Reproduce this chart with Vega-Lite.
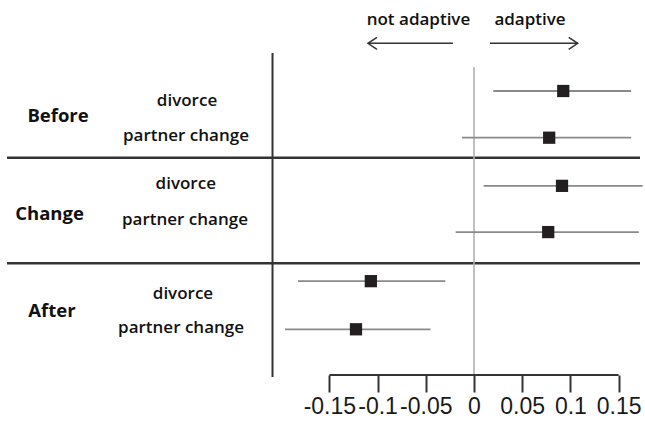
{
  "$schema": "https://vega.github.io/schema/vega-lite/v6.json",
  "width": 645,
  "height": 375,
  "padding": {"left": 0, "top": 0, "right": 0, "bottom": 52},
  "autosize": {"type": "none"},
  "background": "white",
  "config": {
    "view": {"stroke": null},
    "font": "Open Sans"
  },
  "datasets": {
    "estimates": [
      {"period": "Before", "event": "divorce", "row": 1, "est": 0.0926, "lo": 0.02, "hi": 0.163},
      {"period": "Before", "event": "partner change", "row": 1.98, "est": 0.078, "lo": -0.0124, "hi": 0.163},
      {"period": "Change", "event": "divorce", "row": 2.99, "est": 0.0913, "lo": 0.01, "hi": 0.175},
      {"period": "Change", "event": "partner change", "row": 3.96, "est": 0.077, "lo": -0.019, "hi": 0.171},
      {"period": "After", "event": "divorce", "row": 4.99, "est": -0.107, "lo": -0.1826, "hi": -0.0298},
      {"period": "After", "event": "partner change", "row": 6, "est": -0.1224, "lo": -0.196, "hi": -0.045}
    ],
    "labels": [
      {"text": "Before", "kind": "period", "pos": -0.4315, "row": 1.644},
      {"text": "Change", "kind": "period", "pos": -0.4403, "row": 3.707},
      {"text": "After", "kind": "period", "pos": -0.4378, "row": 5.736},
      {"text": "divorce", "kind": "event", "pos": -0.2977, "row": 1.32},
      {"text": "partner change", "kind": "event", "pos": -0.2988, "row": 2.049},
      {"text": "divorce", "kind": "event", "pos": -0.299, "row": 3.06},
      {"text": "partner change", "kind": "event", "pos": -0.2998, "row": 3.812},
      {"text": "divorce", "kind": "event", "pos": -0.3019, "row": 5.37},
      {"text": "partner change", "kind": "event", "pos": -0.3039, "row": 6.077}
    ],
    "separators": [
      {"row": 2.4},
      {"row": 4.615}
    ],
    "arrows": [
      {"label": "not adaptive", "dir": "left", "tail": -0.0218, "head": -0.11, "mid": -0.0576},
      {"label": "adaptive", "dir": "right", "tail": 0.0166, "head": 0.1076, "mid": 0.0581}
    ],
    "single": [{}]
  },
  "layer": [
    {
      "data": {"name": "separators"},
      "mark": {"type": "rule", "color": "#333333", "strokeWidth": 2.5},
      "encoding": {
        "x": {
          "datum": -0.4844,
          "type": "quantitative",
          "scale": {"domain": [-0.4917, 0.1774], "nice": false, "zero": false},
          "axis": {
            "values": [-0.15, -0.1, -0.05, 0, 0.05, 0.1, 0.15],
            "labelExpr": "toString(datum.value)",
            "domain": false,
            "grid": false,
            "ticks": true,
            "tickSize": 17,
            "tickWidth": 2,
            "tickColor": "#333333",
            "labelFont": "Liberation Sans",
            "labelFontSize": 23,
            "labelColor": "#1a1a1a",
            "labelPadding": 3,
            "labelOverlap": false,
            "labelFlush": false,
            "title": null
          }
        },
        "x2": {"datum": 0.1722},
        "y": {
          "field": "row",
          "type": "quantitative",
          "scale": {"domain": [-0.9094, 6.9589], "nice": false, "zero": false, "reverse": true},
          "axis": null
        }
      }
    },
    {
      "data": {"name": "single"},
      "mark": {"type": "rule", "color": "#333333", "strokeWidth": 2, "clip": false},
      "encoding": {
        "x": {"datum": -0.209, "type": "quantitative", "title": null},
        "y": {"datum": 0.203, "type": "quantitative", "axis": null},
        "y2": {"datum": 7.0}
      }
    },
    {
      "data": {"name": "single"},
      "mark": {"type": "rule", "color": "#b0b0b0", "strokeWidth": 1.6},
      "encoding": {
        "x": {"datum": 0, "type": "quantitative", "title": null},
        "y": {"datum": 0.5, "type": "quantitative", "axis": null},
        "y2": {"datum": 6.9589}
      }
    },
    {
      "data": {"name": "single"},
      "mark": {"type": "rule", "color": "#333333", "strokeWidth": 2, "clip": false},
      "encoding": {
        "x": {"datum": -0.15, "type": "quantitative", "title": null},
        "x2": {"datum": 0.15},
        "y": {"datum": 6.9589, "type": "quantitative", "axis": null}
      }
    },
    {
      "data": {"name": "estimates"},
      "mark": {"type": "rule", "color": "#8a8a8a", "strokeWidth": 1.8},
      "encoding": {
        "x": {"field": "lo", "type": "quantitative", "title": null},
        "x2": {"field": "hi"},
        "y": {"field": "row", "type": "quantitative", "axis": null}
      }
    },
    {
      "data": {"name": "estimates"},
      "mark": {"type": "square", "size": 150, "color": "#231f20", "filled": true, "opacity": 1},
      "encoding": {
        "x": {"field": "est", "type": "quantitative", "title": null},
        "y": {"field": "row", "type": "quantitative", "axis": null}
      }
    },
    {
      "data": {"name": "labels"},
      "transform": [{"filter": "datum.kind === 'period'"}],
      "mark": {"type": "text", "font": "Open Sans", "fontSize": 18.5, "fontWeight": "bold", "color": "#111111", "align": "center", "baseline": "alphabetic"},
      "encoding": {
        "x": {"field": "pos", "type": "quantitative", "title": null},
        "y": {"field": "row", "type": "quantitative", "axis": null},
        "text": {"field": "text"}
      }
    },
    {
      "data": {"name": "labels"},
      "transform": [{"filter": "datum.kind === 'event'"}],
      "mark": {"type": "text", "font": "Open Sans", "fontSize": 17, "fontWeight": 600, "color": "#111111", "align": "center", "baseline": "alphabetic"},
      "encoding": {
        "x": {"field": "pos", "type": "quantitative", "title": null},
        "y": {"field": "row", "type": "quantitative", "axis": null},
        "text": {"field": "text"}
      }
    },
    {
      "data": {"name": "arrows"},
      "mark": {"type": "text", "font": "Open Sans", "fontSize": 17, "fontWeight": 600, "color": "#111111", "align": "center", "baseline": "alphabetic"},
      "encoding": {
        "x": {"field": "mid", "type": "quantitative", "title": null},
        "y": {"datum": -0.385, "type": "quantitative", "axis": null},
        "text": {"field": "label"}
      }
    },
    {
      "data": {"name": "arrows"},
      "mark": {"type": "rule", "color": "#333333", "strokeWidth": 1.5},
      "encoding": {
        "x": {"field": "tail", "type": "quantitative", "title": null},
        "x2": {"field": "head"},
        "y": {"datum": 0, "type": "quantitative", "axis": null}
      }
    },
    {
      "data": {"name": "arrows"},
      "mark": {"type": "point", "size": 144, "filled": false, "color": "#333333", "strokeWidth": 1.5, "opacity": 1},
      "encoding": {
        "x": {"field": "head", "type": "quantitative", "title": null},
        "y": {"datum": 0, "type": "quantitative", "axis": null},
        "shape": {
          "field": "dir",
          "type": "nominal",
          "scale": {"domain": ["left", "right"], "range": ["M 1.5 -1 L 0 0 L 1.5 1", "M -1.5 -1 L 0 0 L -1.5 1"]},
          "legend": null
        }
      }
    }
  ]
}
